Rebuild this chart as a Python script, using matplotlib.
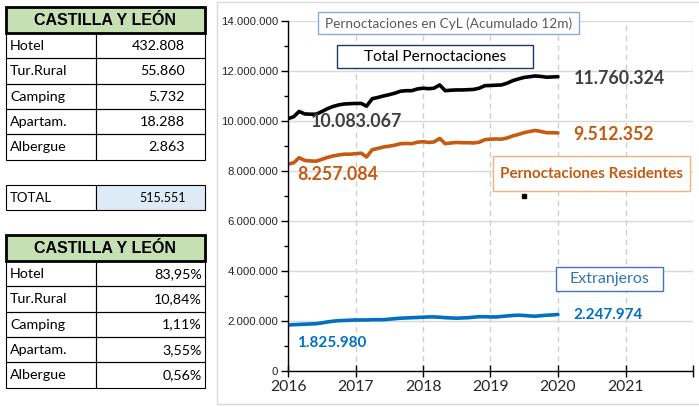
import matplotlib.pyplot as plt
import matplotlib.ticker as mticker
from matplotlib.patches import Rectangle
import pandas as pd

# tables
categorias = ['Hotel', 'Tur.Rural', 'Camping', 'Apartam.', 'Albergue']
plazas = [432808, 55860, 5732, 18288, 2863]
total_plazas = 515551
porcentajes = [83.95, 10.84, 1.11, 3.55, 0.56]
region = 'CASTILLA Y LEÓN'

# monthly series, millions of overnight stays (accumulated 12 months)
meses = pd.date_range('2016-01-01', periods=49, freq='MS')
total = [10.083067, 10.16, 10.37, 10.27, 10.26, 10.26, 10.36, 10.48, 10.57, 10.63,
         10.67, 10.68, 10.69, 10.69, 10.58, 10.88, 10.93, 10.99, 11.04, 11.10,
         11.18, 11.20, 11.20, 11.27, 11.30, 11.28, 11.30, 11.43, 11.20, 11.22,
         11.23, 11.23, 11.24, 11.25, 11.30, 11.40, 11.41, 11.42, 11.43, 11.50,
         11.60, 11.67, 11.73, 11.76, 11.79, 11.77, 11.74, 11.75, 11.760324]
residentes = [8.257084, 8.32, 8.52, 8.41, 8.39, 8.38, 8.45, 8.53, 8.59, 8.63,
              8.66, 8.66, 8.68, 8.70, 8.55, 8.84, 8.89, 8.95, 8.98, 9.02,
              9.08, 9.09, 9.08, 9.14, 9.16, 9.13, 9.15, 9.29, 9.08, 9.11,
              9.13, 9.12, 9.12, 9.11, 9.14, 9.24, 9.26, 9.27, 9.26, 9.31,
              9.39, 9.45, 9.52, 9.57, 9.61, 9.57, 9.52, 9.52, 9.512352]
extranjeros = [1.825980, 1.84, 1.85, 1.86, 1.87, 1.88, 1.91, 1.95, 1.98, 2.00,
               2.01, 2.02, 2.03, 2.03, 2.03, 2.04, 2.04, 2.04, 2.06, 2.08,
               2.10, 2.11, 2.12, 2.13, 2.14, 2.15, 2.15, 2.14, 2.12, 2.11,
               2.10, 2.11, 2.12, 2.14, 2.16, 2.16, 2.15, 2.15, 2.17, 2.19,
               2.21, 2.22, 2.21, 2.19, 2.18, 2.20, 2.22, 2.23, 2.247974]
punto_suelto = (pd.Timestamp('2019-07-01'), 7.0)

W, H = 699, 407


def fx(x):
    return x / W


def fy(y):
    return 1 - y / H


def miles(v):
    return f'{int(round(v)):,}'.replace(',', '.')


fig = plt.figure(figsize=(6.99, 4.07), dpi=100)

# ---- left tables ----
def rect(x0, y0, x1, y1, fc='none', ec='black', lw=0.8):
    fig.add_artist(Rectangle((fx(x0), fy(y1)), fx(x1) - fx(x0), fy(y0) - fy(y1),
                             transform=fig.transFigure, fc=fc, ec=ec, lw=lw))


def tabla(top, filas, val_x):
    xl, xm, xr = 6, 96, 205
    rect(xl, top, xr, top + 26, fc='#c6e0b4', lw=2)
    fig.text(fx((xl + xr) / 2), fy(top + 13.5), region, ha='center', va='center',
             family='Liberation Sans', weight='bold', fontsize=11.5)
    y = top + 26
    for nombre, valor in filas:
        rect(xl, y, xm, y + 25.3)
        rect(xm, y, xr, y + 25.3)
        fig.text(fx(10), fy(y + 13), nombre, ha='left', va='center',
                 family='Lato', fontsize=10.3)
        fig.text(fx(val_x), fy(y + 13), valor, ha='right', va='center',
                 family='Lato', fontsize=10.3)
        y += 25.3


tabla(7, [(c, miles(v)) for c, v in zip(categorias, plazas)], 185)
rect(6, 185, 96, 210, fc='white')
rect(96, 185, 205, 210, fc='#ddebf7')
fig.text(fx(10), fy(198), 'TOTAL', ha='left', va='center', family='Lato', fontsize=9.5)
fig.text(fx(186), fy(198), miles(total_plazas), ha='right', va='center',
         family='Lato', fontsize=9)
tabla(235, [(c, f'{p:.2f}%'.replace('.', ',')) for c, p in zip(categorias, porcentajes)], 202)

# ---- chart ----
rect(217, 2, 705, 404, ec='#d9d9d9', lw=1)
ax = fig.add_axes([fx(288), fy(370.7), fx(693) - fx(288), fy(20.7) - fy(370.7)])
ax.set_facecolor('none')

ax.plot(meses, [v * 1e6 for v in total], color='black', lw=2.6, solid_capstyle='round')
ax.plot(meses, [v * 1e6 for v in residentes], color='#c55a11', lw=2.6, solid_capstyle='round')
ax.plot(meses, [v * 1e6 for v in extranjeros], color='#0070c0', lw=2.6, solid_capstyle='round')
ax.plot([punto_suelto[0]], [punto_suelto[1] * 1e6], 's', color='black', ms=3)

ax.set_xlim(pd.Timestamp('2016-01-01'), pd.Timestamp('2022-01-01'))
ax.set_ylim(0, 14e6)
years = [pd.Timestamp(f'{y}-01-01') for y in range(2016, 2023)]
ax.set_xticks(years)
ax.set_xticklabels([str(y) for y in range(2016, 2022)] + [''])
ax.yaxis.set_major_locator(mticker.MultipleLocator(2e6))
ax.yaxis.set_minor_locator(mticker.MultipleLocator(1e6))
ax.yaxis.set_major_formatter(mticker.FuncFormatter(lambda v, p: miles(v)))
for lab in ax.get_yticklabels():
    lab.set_family('Liberation Sans')

ax.tick_params(axis='y', which='major', direction='out', length=5, width=1,
               labelsize=8.2, labelcolor='#262626', pad=2)
ax.tick_params(axis='y', which='minor', direction='out', length=3, width=1)
ax.tick_params(axis='x', direction='inout', length=8, width=1, labelsize=11.3,
               labelcolor='#262626', pad=3)
for lab in ax.get_xticklabels():
    lab.set_family('Lato')

ax.yaxis.grid(True, color='#d9d9d9', lw=1)
ax.xaxis.grid(True, color='#d0d0d0', lw=1, ls=(0, (4, 3)))
ax.set_axisbelow(True)
for s in ['top', 'right']:
    ax.spines[s].set_visible(False)
for s in ['left', 'bottom']:
    ax.spines[s].set_linewidth(1)

# end-point labels
lab_kw = dict(family='Lato', weight='bold', ha='left', va='center')
ax.text(pd.Timestamp('2016-05-01'), 9.96e6, miles(total[0] * 1e6), color='#404040', fontsize=12.8, **lab_kw)
ax.text(pd.Timestamp('2020-03-25'), 11.67e6, miles(total[-1] * 1e6), color='#404040', fontsize=12.8, **lab_kw)
ax.text(pd.Timestamp('2016-02-20'), 7.83e6, miles(residentes[0] * 1e6), color='#c55a11', fontsize=12.8, **lab_kw)
ax.text(pd.Timestamp('2020-03-25'), 9.46e6, miles(residentes[-1] * 1e6), color='#c55a11', fontsize=12.8, **lab_kw)
ax.text(pd.Timestamp('2016-02-20'), 1.12e6, miles(extranjeros[0] * 1e6), color='#0070c0', fontsize=11, **lab_kw)
ax.text(pd.Timestamp('2020-03-25'), 2.23e6, miles(extranjeros[-1] * 1e6), color='#0070c0', fontsize=11, **lab_kw)

# boxed captions
def caja(x0, y0, x1, y1, texto, ec, color, size, weight='normal'):
    rect(x0, y0, x1, y1, fc='white', ec=ec, lw=1)
    fig.text(fx((x0 + x1) / 2), fy((y0 + y1) / 2 + 0.5), texto, ha='center', va='center',
             family='Lato', fontsize=size, color=color, weight=weight)


caja(318, 12, 579, 34, 'Pernoctaciones en CyL (Acumulado 12m)', '#8eaadb', '#595959', 9.8)
caja(337, 45, 533, 68, 'Total Pernoctaciones', '#1f3864', 'black', 11.1)
caja(493, 156, 690, 191, 'Pernoctaciones Residentes', '#f4b183', '#c55a11', 11, 'bold')
caja(556, 267, 663, 291, 'Extranjeros', '#4472c4', '#2e75b6', 11.5)

fig.savefig('out.png', dpi=100)
